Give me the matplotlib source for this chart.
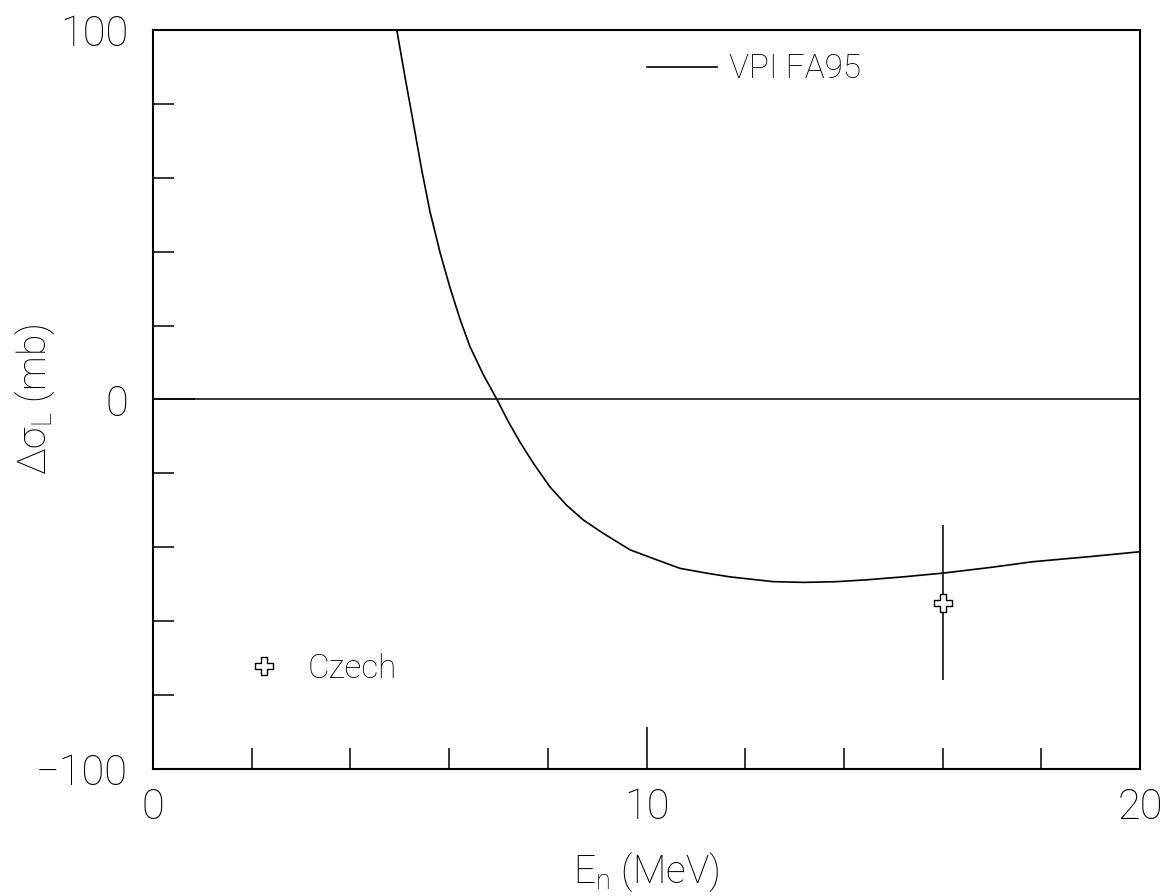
import numpy as np
import matplotlib
matplotlib.use('Agg')
import matplotlib.pyplot as plt
from matplotlib.path import Path
from matplotlib.lines import Line2D
from matplotlib.ticker import MultipleLocator

plt.rcParams['font.family'] = ['Roboto', 'DejaVu Sans']
plt.rcParams['font.weight'] = 'light'
plt.rcParams['axes.labelweight'] = 'light'
plt.rcParams['mathtext.default'] = 'regular'

# VPI FA95 curve
energy = [4.94, 5.11, 5.24, 5.34, 5.44, 5.61, 5.82, 6.02, 6.22, 6.42, 6.69,
          6.97, 7.2, 7.44, 7.71, 8.04, 8.38, 8.72, 9.12, 9.67, 10.21, 10.68,
          11.22, 11.69, 12.57, 13.2, 13.85, 14.46, 15.2, 16.0, 17.0, 17.83,
          19.0, 20.0]
dsigma = [100, 87.0, 77.5, 70.0, 62.5, 51.0, 39.6, 30.2, 21.8, 14.4, 6.8,
          0.0, -6.0, -11.6, -17.3, -23.6, -28.6, -32.6, -36.2, -40.7, -43.4,
          -45.7, -47.0, -48.0, -49.3, -49.5, -49.3, -48.8, -48.0, -47.0, -45.4,
          -43.9, -42.5, -41.2]

# Czech measurement
czech_e = [16.0]
czech_ds = [-55.0]
czech_err = [21.0]

# open cross marker
a = 0.33
cross = Path([(-a, 1), (a, 1), (a, a), (1, a), (1, -a), (a, -a), (a, -1),
              (-a, -1), (-a, -a), (-1, -a), (-1, a), (-a, a), (-a, 1)],
             closed=True)

fig = plt.figure(figsize=(11.7, 8.96), dpi=100)
ax = fig.add_axes([153/1170, 127/896, 987/1170, 739/896])

ax.axhline(0, color='black', lw=1.1)
ax.plot(energy, dsigma, color='black', lw=1.2)
ax.errorbar(czech_e, czech_ds, yerr=czech_err, fmt='none', ecolor='black',
            elinewidth=1.1, capsize=0)
ax.plot(czech_e, czech_ds, ls='none', marker=cross, ms=13.5, mfc='white',
        mec='black', mew=1.0)

ax.set_xlim(0, 20)
ax.set_ylim(-100, 100)

ax.xaxis.set_major_locator(MultipleLocator(10))
ax.xaxis.set_minor_locator(MultipleLocator(2))
ax.yaxis.set_major_locator(MultipleLocator(100))
ax.yaxis.set_minor_locator(MultipleLocator(20))
ax.tick_params(which='both', direction='in', top=False, right=False, width=1.1)
ax.tick_params(which='major', length=30, labelsize=30)
ax.tick_params(axis='x', which='major', pad=13)
ax.tick_params(axis='y', which='major', pad=18)
ax.tick_params(which='minor', length=15)
for s in ax.spines.values():
    s.set_linewidth(1.5)

ax.set_xlabel('E$_{n}$ (MeV)', fontsize=28, fontweight='light')
ax.set_ylabel('Δσ$_{L}$ (mb)', fontsize=28, fontweight='light')
ax.xaxis.set_label_coords(0.5, -0.11)
ax.yaxis.set_label_coords(-0.097, 0.5)

leg1 = ax.legend([Line2D([], [], color='black', lw=1.2)], ['VPI FA95'],
                 loc='center left', bbox_to_anchor=(0.5005, 0.947),
                 frameon=False, fontsize=24, handlelength=2.1,
                 handletextpad=0.35, borderpad=0, borderaxespad=0)
ax.add_artist(leg1)
ax.legend([Line2D([], [], ls='none', marker=cross, ms=13.5, mfc='white',
                  mec='black', mew=1.0)], ['Czech'],
          loc='center left', bbox_to_anchor=(0.0963, 0.1353),
          frameon=False, fontsize=24, handlelength=0.95,
          handletextpad=0.85, borderpad=0, borderaxespad=0)

fig.savefig('out.png', dpi=100)
